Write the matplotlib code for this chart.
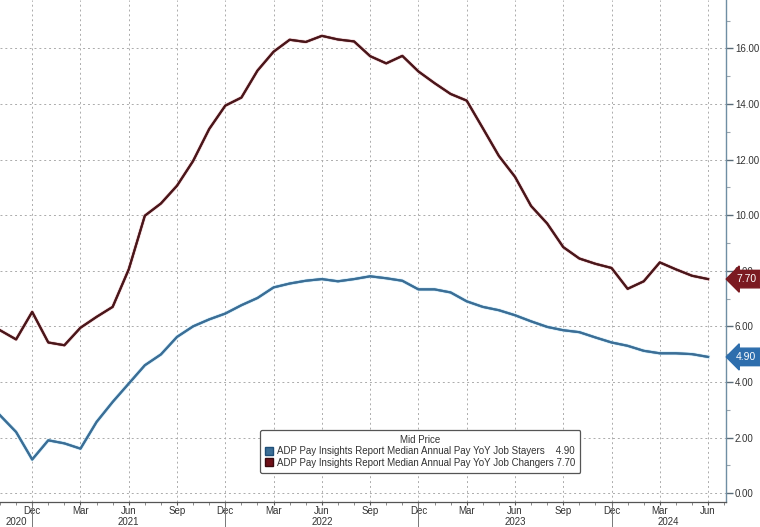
import matplotlib
matplotlib.use("Agg")
import matplotlib.pyplot as plt
import matplotlib.patheffects as pe
from matplotlib.patches import Patch
from matplotlib.ticker import FixedLocator, MultipleLocator, FormatStrFormatter
import pandas as pd

plt.rcParams['font.family'] = ['Liberation Sans', 'DejaVu Sans']

months = pd.date_range('2020-10-01', '2024-06-01', freq='MS')

changers = [5.86, 5.53, 6.52, 5.42, 5.32, 5.95, 6.34, 6.70, 8.05, 9.98, 10.42, 11.06,
            11.95, 13.10, 13.94, 14.23, 15.20, 15.88, 16.31, 16.23, 16.45, 16.32, 16.25,
            15.72, 15.46, 15.73, 15.17, 14.75, 14.36, 14.12, 13.13, 12.13, 11.38, 10.33,
            9.70, 8.85, 8.44, 8.25, 8.10, 7.35, 7.62, 8.30, 8.05, 7.82, 7.70]
stayers = [2.80, 2.20, 1.21, 1.90, 1.79, 1.60, 2.56, 3.28, 3.94, 4.60, 4.99, 5.62,
           6.00, 6.25, 6.46, 6.76, 7.02, 7.40, 7.54, 7.64, 7.70, 7.62, 7.70, 7.80,
           7.73, 7.64, 7.33, 7.33, 7.22, 6.90, 6.70, 6.58, 6.40, 6.18, 5.98, 5.86,
           5.79, 5.60, 5.42, 5.30, 5.12, 5.03, 5.03, 5.00, 4.90]

label_stayers = 'ADP Pay Insights Report Median Annual Pay YoY Job Stayers'
label_changers = 'ADP Pay Insights Report Median Annual Pay YoY Job Changers'

col_red = '#4a161a'
col_blue = '#3b6e96'
tag_red = '#7b1a21'
tag_blue = '#2e6ead'

x = list(range(len(months)))

fig = plt.figure(figsize=(7.6, 5.27), dpi=100)
ax = fig.add_axes([0.0, 0.0474, 0.955, 0.9526])

ax.plot(x, changers, color=col_red, lw=1.5, zorder=4,
        path_effects=[pe.withStroke(linewidth=2.6, foreground='#f0d2d5'), pe.Normal()])
ax.plot(x, stayers, color=col_blue, lw=1.5, zorder=4,
        path_effects=[pe.withStroke(linewidth=2.6, foreground='#cdeaf8'), pe.Normal()])

ax.set_xlim(0, 45.1)
ax.set_ylim(-0.32, 17.74)

# y axis on the right
ax.yaxis.tick_right()
ax.yaxis.set_major_locator(FixedLocator([0, 2, 4, 6, 8, 10, 12, 14, 16]))
ax.yaxis.set_minor_locator(FixedLocator([1, 3, 5, 7, 9, 11, 13, 15, 17]))
ax.yaxis.set_major_formatter(FormatStrFormatter('%.2f'))
ax.tick_params(axis='y', which='major', length=5, width=1.0, color='#5a6b78',
               labelsize=7, labelcolor='#333333', pad=1.5)
ax.tick_params(axis='y', which='minor', length=3, width=0.8, color='#9aa5ae')

# x axis: months
quarter_idx = [i for i, m in enumerate(months) if m.month in (3, 6, 9, 12)]
ax.xaxis.set_major_locator(FixedLocator(quarter_idx))
ax.xaxis.set_minor_locator(MultipleLocator(1))
ax.set_xticklabels([months[i].strftime('%b') for i in quarter_idx])
ax.tick_params(axis='x', which='major', length=2.5, width=0.8, color='#555555',
               labelsize=7, labelcolor='#333333', pad=0.5)
ax.tick_params(axis='x', which='minor', length=2, width=0.6, color='#777777')

for s in ['top', 'left']:
    ax.spines[s].set_visible(False)
ax.spines['right'].set_color('#6f8ea3')
ax.spines['right'].set_linewidth(1.0)
ax.spines['bottom'].set_color('#555555')
ax.spines['bottom'].set_linewidth(0.9)

ax.grid(True, which='major', color='#ababab', linestyle=(0, (2, 3)), linewidth=0.7)
ax.set_axisbelow(True)

# year separators and year labels
tr = ax.get_xaxis_transform()
for i, m in enumerate(months):
    if m.month == 12:
        ax.plot([i, i], [0, -0.05], transform=tr, color='#777777', lw=0.7, clip_on=False)
years = sorted(set(m.year for m in months))
for yr in years:
    idx = [i for i, m in enumerate(months) if m.year == yr]
    if len(idx) == 12:
        pos = idx[5]
    else:
        pos = (idx[0] + idx[-1]) / 2
    if pos < 1:
        pos = 0.7
    ax.text(pos, -0.039, str(yr), transform=tr, ha='center', va='center',
            fontsize=7, color='#333333', clip_on=False)

# right-side last value tags
ytr = ax.get_yaxis_transform()
for val, c in [(changers[-1], tag_red), (stayers[-1], tag_blue)]:
    ax.text(1.014, val, f'{val:.2f}', transform=ytr, ha='left', va='center',
            fontsize=7.5, color='white', zorder=10, clip_on=False,
            bbox=dict(boxstyle='larrow,pad=0.36', fc=c, ec=c))

# legend
handles = [Patch(facecolor=col_blue, edgecolor='#1f4f78'),
           Patch(facecolor='#6e1018', edgecolor='#3a0a0e')]
labels = [f'{label_stayers}    {stayers[-1]:.2f}',
          f'{label_changers} {changers[-1]:.2f}']
leg = ax.legend(handles, labels, title='Mid Price', loc='upper left',
                bbox_to_anchor=(0.358, 0.1434), borderaxespad=0, fontsize=7,
                title_fontsize=7, handlelength=0.9, handleheight=0.9,
                handletextpad=0.4, borderpad=0.5, labelspacing=0.15,
                fancybox=True, framealpha=1, edgecolor='#555555')
leg.get_frame().set_linewidth(0.9)
for t in leg.get_texts():
    t.set_color('#333333')
leg.get_title().set_color('#333333')

fig.savefig('out.png', dpi=100)
